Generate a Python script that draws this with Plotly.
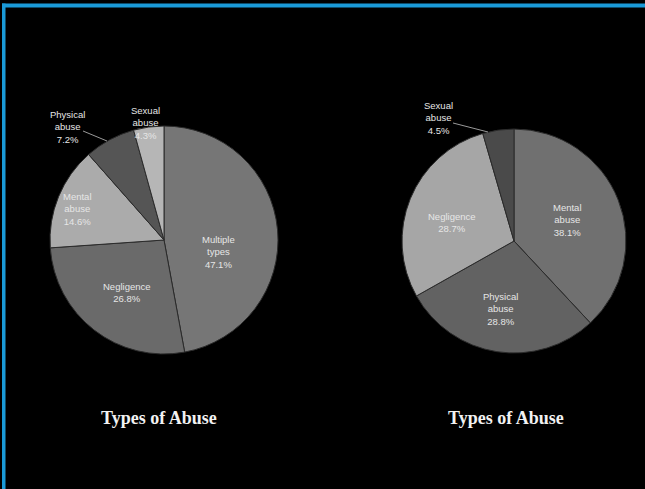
import plotly.graph_objects as go

W, H = 645, 489

# ---- data ----
left_labels = ["Multiple types", "Negligence", "Mental abuse", "Physical abuse", "Sexual abuse"]
left_values = [47.1, 26.8, 14.6, 7.2, 4.3]
right_labels = ["Mental abuse", "Physical abuse", "Negligence", "Sexual abuse"]
right_values = [38.1, 28.8, 28.7, 4.5]
chart_title = "Types of Abuse"

# ---- styles ----
left_colors = ["#767676", "#6a6a6a", "#ababab", "#555555", "#b6b6b6"]
right_colors = ["#707070", "#626262", "#a6a6a6", "#4a4a4a"]
left_center, left_r = (164, 240), 114
right_center, right_r = (514, 241), 112
# label offsets (px) relative to pie center
left_label_off = [(54, 12), (-37, 52), (-87, -31), (-97, -113), (-19, -117)]
right_label_off = [(53, -21), (-14, 68), (-62, -19), (-76, -123)]
# leader lines (px, absolute) for outside labels: index -> (x0,y0,x1,y1)
left_leaders = {3: (83, 131, 107, 141)}
right_leaders = {3: (453, 123, 488, 132)}
title_pos = [(159, 418), (506, 418)]


def px(x):
    return x / W


def py(y):
    return 1 - y / H


fig = go.Figure()
annotations = []
shapes = []


def add_pie(labels, values, colors, center, r, offs, leaders, tpos):
    cx, cy = center
    fig.add_trace(go.Pie(
        labels=labels, values=values, sort=False, direction="clockwise",
        rotation=0, textinfo="none", showlegend=False,
        marker=dict(colors=colors, line=dict(color="#2b2b2b", width=1)),
        domain=dict(x=[px(cx - r), px(cx + r)], y=[py(cy + r), py(cy - r)]),
    ))
    for i, (lab, val) in enumerate(zip(labels, values)):
        dx, dy = offs[i]
        annotations.append(dict(
            x=px(cx + dx), y=py(cy + dy), xref="paper", yref="paper",
            xanchor="center", yanchor="middle",
            text=lab.replace(" ", "<br>") + "<br>" + f"{val:.1f}%",
            showarrow=False, align="center",
            font=dict(family="Liberation Sans, Arial, sans-serif", size=9.5, color="#e6e6e6"),
        ))
    for i, (x0, y0, x1, y1) in leaders.items():
        shapes.append(dict(type="line", xref="paper", yref="paper",
                           x0=px(x0), y0=py(y0), x1=px(x1), y1=py(y1),
                           line=dict(color="#9a9a9a", width=1)))
    annotations.append(dict(
        x=px(tpos[0]), y=py(tpos[1]), xref="paper", yref="paper",
        xanchor="center", yanchor="middle",
        text="<b>" + chart_title + "</b>", showarrow=False,
        font=dict(family="Liberation Serif, Times New Roman, serif", size=18, color="#f2f2f2"),
    ))


add_pie(left_labels, left_values, left_colors, left_center, left_r, left_label_off, left_leaders, title_pos[0])
add_pie(right_labels, right_values, right_colors, right_center, right_r, right_label_off, right_leaders, title_pos[1])

# blue frame (top and left edges)
shapes.append(dict(type="rect", xref="paper", yref="paper", x0=px(2), x1=1,
                   y0=py(7.5), y1=py(3.5), fillcolor="#1a9ad8", line=dict(width=0), layer="above"))
shapes.append(dict(type="rect", xref="paper", yref="paper", x0=px(2), x1=px(5.5),
                   y0=0, y1=py(3.5), fillcolor="#1a9ad8", line=dict(width=0), layer="above"))

fig.update_layout(
    width=W, height=H, margin=dict(l=0, r=0, t=0, b=0),
    paper_bgcolor="#000000", plot_bgcolor="#000000",
    annotations=annotations, shapes=shapes,
)

fig.write_html("out.html", config={"displayModeBar": False})
